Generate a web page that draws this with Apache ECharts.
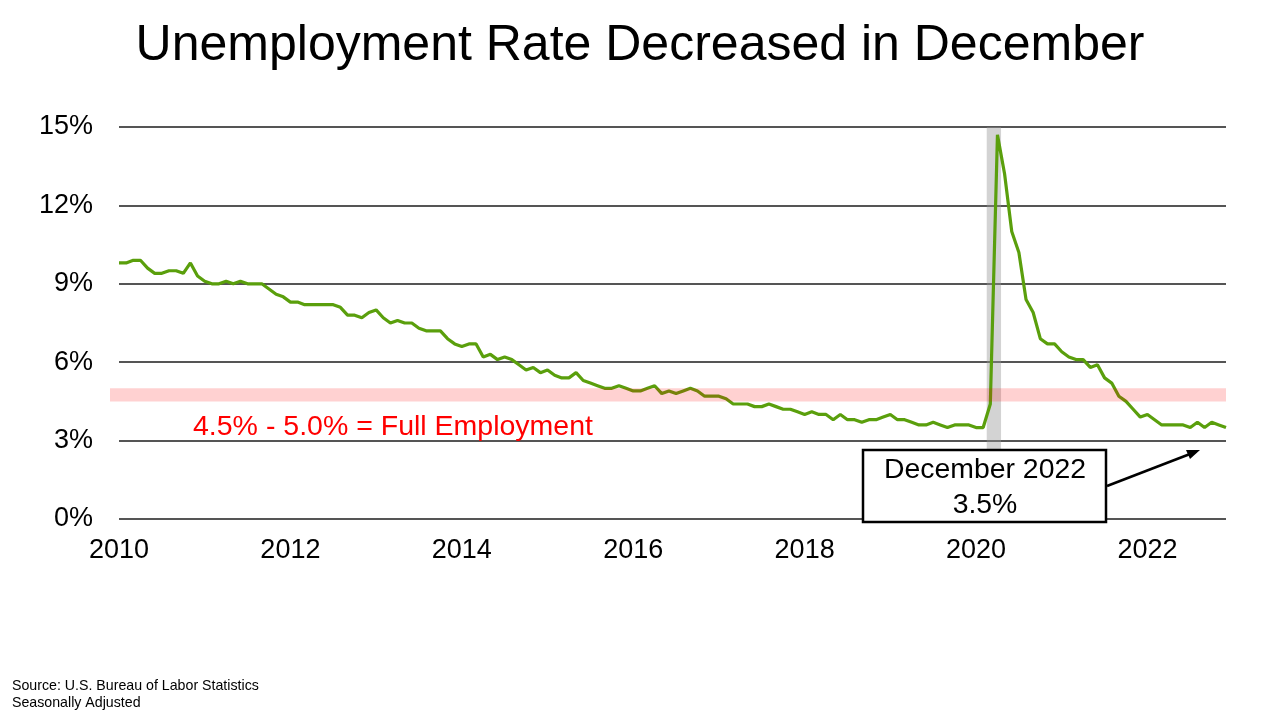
<!DOCTYPE html>
<html>
<head>
<meta charset="utf-8">
<script src="https://cdn.jsdelivr.net/npm/echarts@6/dist/echarts.min.js"></script>
<style>
html,body{margin:0;padding:0;background:#fff;}
#c{width:1280px;height:720px;}
</style>
</head>
<body>
<div id="c"></div>
<script>
// Monthly unemployment rate, Jan 2010 - Dec 2022 (%)
const rate2010 = [9.8, 9.8, 9.9, 9.9, 9.6, 9.4, 9.4, 9.5, 9.5, 9.4, 9.8, 9.3];
const rate2011 = [9.1, 9.0, 9.0, 9.1, 9.0, 9.1, 9.0, 9.0, 9.0, 8.8, 8.6, 8.5];
const rate2012 = [8.3, 8.3, 8.2, 8.2, 8.2, 8.2, 8.2, 8.1, 7.8, 7.8, 7.7, 7.9];
const rate2013 = [8.0, 7.7, 7.5, 7.6, 7.5, 7.5, 7.3, 7.2, 7.2, 7.2, 6.9, 6.7];
const rate2014 = [6.6, 6.7, 6.7, 6.2, 6.3, 6.1, 6.2, 6.1, 5.9, 5.7, 5.8, 5.6];
const rate2015 = [5.7, 5.5, 5.4, 5.4, 5.6, 5.3, 5.2, 5.1, 5.0, 5.0, 5.1, 5.0];
const rate2016 = [4.9, 4.9, 5.0, 5.1, 4.8, 4.9, 4.8, 4.9, 5.0, 4.9, 4.7, 4.7];
const rate2017 = [4.7, 4.6, 4.4, 4.4, 4.4, 4.3, 4.3, 4.4, 4.3, 4.2, 4.2, 4.1];
const rate2018 = [4.0, 4.1, 4.0, 4.0, 3.8, 4.0, 3.8, 3.8, 3.7, 3.8, 3.8, 3.9];
const rate2019 = [4.0, 3.8, 3.8, 3.7, 3.6, 3.6, 3.7, 3.6, 3.5, 3.6, 3.6, 3.6];
const rate2020 = [3.5, 3.5, 4.4, 14.7, 13.2, 11.0, 10.2, 8.4, 7.9, 6.9, 6.7, 6.7];
const rate2021 = [6.4, 6.2, 6.1, 6.1, 5.8, 5.9, 5.4, 5.2, 4.7, 4.5, 4.2, 3.9];
const rate2022 = [4.0, 3.8, 3.6, 3.6, 3.6, 3.6, 3.5, 3.7, 3.5, 3.7, 3.6, 3.5];

const startYear = 2010;
const yearLabels = ['2010', '2012', '2014', '2016', '2018', '2020', '2022'];
const yTicks = [0, 3, 6, 9, 12, 15];
const fullEmploymentRange = [4.5, 5.0];
const recession = ['2020-02', '2020-04'];

const titleText = 'Unemployment Rate Decreased in December';
const bandText = '4.5% - 5.0% = Full Employment';
const calloutLines = ['December 2022', '3.5%'];
const sourceLines = ['Source: U.S. Bureau of Labor Statistics', 'Seasonally Adjusted'];

const allRates = [].concat(rate2010, rate2011, rate2012, rate2013, rate2014, rate2015,
  rate2016, rate2017, rate2018, rate2019, rate2020, rate2021, rate2022);
const seriesData = allRates.map((v, i) => [i, v]);
const lastIdx = allRates.length - 1;
function monthIndex(s) { const p = s.split('-'); return (+p[0] - startYear) * 12 + (+p[1] - 1); }
const labelPositions = yearLabels.map(y => (+y - startYear) * 12);

const FONT = '"Liberation Sans", Arial, Helvetica, sans-serif';
const chart = echarts.init(document.getElementById('c'));

const baseGraphics = [
  { type: 'text', x: 640, y: 46, z: 10,
    style: { text: titleText, font: '50px ' + FONT, fill: '#000', textAlign: 'center', textVerticalAlign: 'middle' } },
  { type: 'text', x: 193, y: 427, z: 10,
    style: { text: bandText, font: '28.5px ' + FONT, fill: '#ff0000', textAlign: 'left', textVerticalAlign: 'middle' } },
  { type: 'rect', z: 10, shape: { x: 863, y: 450, width: 243, height: 72 },
    style: { fill: '#fff', stroke: '#000', lineWidth: 2.5 } },
  { type: 'text', x: 985, y: 470, z: 11,
    style: { text: calloutLines[0], font: '28.4px ' + FONT, fill: '#000', textAlign: 'center', textVerticalAlign: 'middle' } },
  { type: 'text', x: 985, y: 505, z: 11,
    style: { text: calloutLines[1], font: '28.4px ' + FONT, fill: '#000', textAlign: 'center', textVerticalAlign: 'middle' } },
  { type: 'line', z: 11, shape: { x1: 1107, y1: 486, x2: 1190, y2: 454 },
    style: { stroke: '#000', lineWidth: 2.5 } },
  { type: 'polygon', z: 11, shape: { points: [[1200, 450], [1186, 450], [1190, 459]] },
    style: { fill: '#000' } },
  { type: 'text', x: 12, y: 686, z: 10,
    style: { text: sourceLines[0], font: '14.2px ' + FONT, fill: '#000', textAlign: 'left', textVerticalAlign: 'middle' } },
  { type: 'text', x: 12, y: 703, z: 10,
    style: { text: sourceLines[1], font: '14.2px ' + FONT, fill: '#000', textAlign: 'left', textVerticalAlign: 'middle' } }
];

const option = {
  backgroundColor: '#ffffff',
  animation: false,
  textStyle: { fontFamily: FONT },
  grid: { left: 119, right: 54, top: 127, bottom: 201, containLabel: false },
  xAxis: {
    type: 'value', min: 0, max: lastIdx,
    axisLine: { show: false },
    axisTick: { show: false },
    splitLine: { show: false },
    axisLabel: {
      customValues: labelPositions,
      formatter: v => String(startYear + Math.round(v / 12)),
      fontSize: 27, color: '#000', fontFamily: FONT, margin: 18
    }
  },
  yAxis: {
    type: 'value', min: yTicks[0], max: yTicks[yTicks.length - 1], interval: 3,
    axisLine: { show: false }, axisTick: { show: false },
    splitLine: { show: true, lineStyle: { color: '#555555', width: 1.8 } },
    axisLabel: { formatter: '{value}%', fontSize: 27, color: '#000', fontFamily: FONT, margin: 26 }
  },
  series: [
    {
      type: 'line', z: 1, data: [], silent: true,
      markArea: {
        silent: true,
        itemStyle: { color: 'rgba(150,150,150,0.42)' },
        data: [[{ xAxis: monthIndex(recession[0]) + 0.5, yAxis: yTicks[0] },
                { xAxis: monthIndex(recession[1]) + 0.5, yAxis: yTicks[yTicks.length - 1] }]]
      }
    },
    {
      type: 'line', z: 2, data: seriesData, showSymbol: false, symbol: 'none',
      lineStyle: { color: '#5A9F0C', width: 3.2 }, silent: true
    }
  ],
  graphic: baseGraphics
};
chart.setOption(option);

// Full-employment band: positioned through the y axis scale, drawn over the line
const yTop = chart.convertToPixel({ yAxisIndex: 0 }, fullEmploymentRange[1]);
const yBot = chart.convertToPixel({ yAxisIndex: 0 }, fullEmploymentRange[0]);
const xEnd = chart.convertToPixel({ xAxisIndex: 0 }, lastIdx);
const xStart = chart.convertToPixel({ xAxisIndex: 0 }, 0) - 9;
chart.setOption({
  graphic: baseGraphics.concat([
    { type: 'rect', z: 5, silent: true,
      shape: { x: xStart, y: yTop, width: xEnd - xStart, height: yBot - yTop },
      style: { fill: 'rgba(255,0,0,0.18)' } }
  ])
});
</script>
</body>
</html>
